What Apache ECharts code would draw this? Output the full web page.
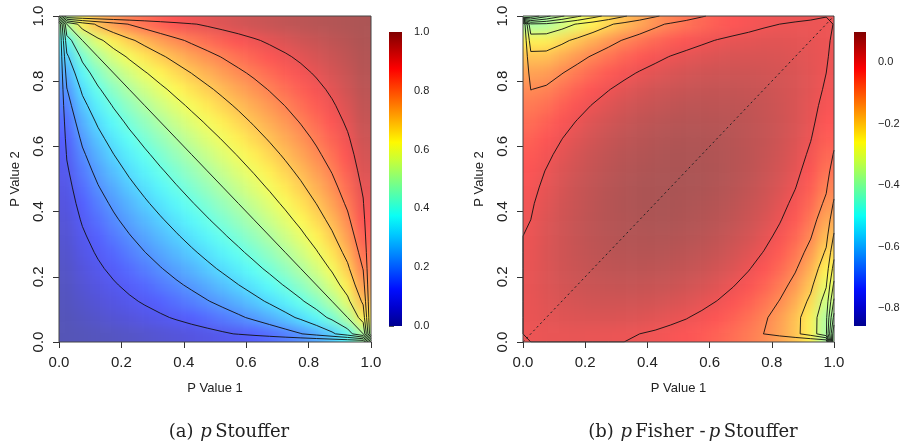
<!DOCTYPE html>
<html><head><meta charset="utf-8">
<script src="https://cdn.jsdelivr.net/npm/echarts@6/dist/echarts.min.js"></script>
<style>
html,body{margin:0;padding:0;background:#fff}
#wrap{position:relative;width:903px;height:447px;background:#fff;overflow:hidden}
.clip{position:absolute;overflow:hidden}
.heat{position:absolute;filter:blur(6px)}
#c{position:absolute;left:0;top:0;width:903px;height:447px}
</style>
</head><body>
<div id="wrap">
  <div class="clip" style="left:59px;top:16px;width:312px;height:326px"><div class="heat" id="hA"></div></div>
  <div class="clip" style="left:523px;top:16px;width:311px;height:326px"><div class="heat" id="hB"></div></div>
  <div id="c"></div>
</div>
<script>
// grid of p-values (cell centres) on both axes
const pGrid = [0.025,0.075,0.125,0.175,0.225,0.275,0.325,0.375,0.425,0.475,0.525,0.575,0.625,0.675,0.725,0.775,0.825,0.875,0.925,0.975];
const axisTicks = [0, 0.2, 0.4, 0.6, 0.8, 1.0];
// panel (a): p Stouffer, row = P Value 1 index, column = P Value 2 index
const stoufferRows = [
[0.003,0.008,0.014,0.020,0.027,0.035,0.044,0.054,0.064,0.076,0.090,0.105,0.123,0.143,0.168,0.197,0.234,0.284,0.356,0.500],
[0.008,0.021,0.034,0.047,0.060,0.075,0.090,0.107,0.125,0.144,0.165,0.188,0.214,0.243,0.276,0.314,0.361,0.419,0.500,0.644],
[0.014,0.034,0.052,0.070,0.089,0.108,0.128,0.150,0.172,0.196,0.221,0.248,0.278,0.311,0.348,0.390,0.439,0.500,0.581,0.716],
[0.020,0.047,0.070,0.093,0.116,0.139,0.163,0.188,0.213,0.240,0.269,0.299,0.332,0.367,0.406,0.450,0.500,0.561,0.639,0.766],
[0.027,0.060,0.089,0.116,0.143,0.169,0.196,0.224,0.252,0.282,0.312,0.344,0.379,0.416,0.456,0.500,0.550,0.610,0.686,0.803],
[0.035,0.075,0.108,0.139,0.169,0.199,0.229,0.259,0.289,0.320,0.353,0.386,0.422,0.459,0.500,0.544,0.594,0.652,0.724,0.832],
[0.044,0.090,0.128,0.163,0.196,0.229,0.261,0.292,0.325,0.358,0.391,0.426,0.462,0.500,0.541,0.584,0.633,0.689,0.757,0.857],
[0.054,0.107,0.150,0.188,0.224,0.259,0.292,0.326,0.360,0.394,0.428,0.464,0.500,0.538,0.578,0.621,0.668,0.722,0.786,0.877],
[0.064,0.125,0.172,0.213,0.252,0.289,0.325,0.360,0.395,0.429,0.464,0.500,0.536,0.574,0.614,0.656,0.701,0.752,0.812,0.895],
[0.076,0.144,0.196,0.240,0.282,0.320,0.358,0.394,0.429,0.465,0.500,0.536,0.572,0.609,0.647,0.688,0.731,0.779,0.835,0.910],
[0.090,0.165,0.221,0.269,0.312,0.353,0.391,0.428,0.464,0.500,0.535,0.571,0.606,0.642,0.680,0.718,0.760,0.804,0.856,0.924],
[0.105,0.188,0.248,0.299,0.344,0.386,0.426,0.464,0.500,0.536,0.571,0.605,0.640,0.675,0.711,0.748,0.787,0.828,0.875,0.936],
[0.123,0.214,0.278,0.332,0.379,0.422,0.462,0.500,0.536,0.572,0.606,0.640,0.674,0.708,0.741,0.776,0.812,0.850,0.893,0.946],
[0.143,0.243,0.311,0.367,0.416,0.459,0.500,0.538,0.574,0.609,0.642,0.675,0.708,0.739,0.771,0.804,0.837,0.872,0.910,0.956],
[0.168,0.276,0.348,0.406,0.456,0.500,0.541,0.578,0.614,0.647,0.680,0.711,0.741,0.771,0.801,0.831,0.861,0.892,0.925,0.965],
[0.197,0.314,0.390,0.450,0.500,0.544,0.584,0.621,0.656,0.688,0.718,0.748,0.776,0.804,0.831,0.857,0.884,0.911,0.940,0.973],
[0.234,0.361,0.439,0.500,0.550,0.594,0.633,0.668,0.701,0.731,0.760,0.787,0.812,0.837,0.861,0.884,0.907,0.930,0.953,0.980],
[0.284,0.419,0.500,0.561,0.610,0.652,0.689,0.722,0.752,0.779,0.804,0.828,0.850,0.872,0.892,0.911,0.930,0.948,0.966,0.986],
[0.356,0.500,0.581,0.639,0.686,0.724,0.757,0.786,0.812,0.835,0.856,0.875,0.893,0.910,0.925,0.940,0.953,0.966,0.979,0.992],
[0.500,0.644,0.716,0.766,0.803,0.832,0.857,0.877,0.895,0.910,0.924,0.936,0.946,0.956,0.965,0.973,0.980,0.986,0.992,0.997]
];
// values on the border of panel (a): x=0, x=1, y=0, y=1 (along pGrid), corners BL, BR, TR, TL
const stoufferLeft   = [0,0,0,0,0,0,0,0,0,0,0,0,0,0,0,0,0,0,0,0];
const stoufferRight  = [1,1,1,1,1,1,1,1,1,1,1,1,1,1,1,1,1,1,1,1];
const stoufferBottom = [0,0,0,0,0,0,0,0,0,0,0,0,0,0,0,0,0,0,0,0];
const stoufferTop    = [1,1,1,1,1,1,1,1,1,1,1,1,1,1,1,1,1,1,1,1];
const stoufferCorners = [0, 0.5, 1, 0.5];
// panel (b): p Fisher - p Stouffer
const diffRows = [
[0.002,0.006,0.007,0.008,0.007,0.006,0.003,0.000,-0.005,-0.012,-0.020,-0.030,-0.042,-0.058,-0.077,-0.101,-0.134,-0.178,-0.246,-0.385],
[0.006,0.014,0.020,0.023,0.025,0.026,0.025,0.022,0.017,0.010,0.002,-0.010,-0.024,-0.041,-0.063,-0.091,-0.127,-0.175,-0.246,-0.379],
[0.007,0.020,0.029,0.035,0.040,0.042,0.042,0.041,0.037,0.031,0.023,0.013,-0.001,-0.018,-0.040,-0.067,-0.102,-0.149,-0.216,-0.338],
[0.008,0.023,0.035,0.044,0.051,0.055,0.057,0.057,0.054,0.050,0.042,0.033,0.020,0.003,-0.017,-0.043,-0.076,-0.120,-0.183,-0.293],
[0.007,0.025,0.040,0.051,0.059,0.065,0.068,0.069,0.068,0.064,0.058,0.050,0.038,0.023,0.003,-0.021,-0.052,-0.093,-0.151,-0.251],
[0.006,0.026,0.042,0.055,0.065,0.072,0.077,0.079,0.079,0.076,0.071,0.063,0.053,0.039,0.021,-0.002,-0.031,-0.069,-0.122,-0.211],
[0.003,0.025,0.042,0.057,0.068,0.077,0.082,0.086,0.087,0.085,0.081,0.075,0.065,0.052,0.036,0.015,-0.012,-0.047,-0.095,-0.175],
[0.000,0.022,0.041,0.057,0.069,0.079,0.086,0.090,0.092,0.092,0.089,0.083,0.074,0.063,0.048,0.029,0.004,-0.028,-0.072,-0.144],
[-0.005,0.017,0.037,0.054,0.068,0.079,0.087,0.092,0.095,0.096,0.093,0.089,0.081,0.071,0.057,0.040,0.017,-0.012,-0.051,-0.115],
[-0.012,0.010,0.031,0.050,0.064,0.076,0.085,0.092,0.096,0.097,0.096,0.092,0.086,0.076,0.064,0.048,0.028,0.002,-0.034,-0.090],
[-0.020,0.002,0.023,0.042,0.058,0.071,0.081,0.089,0.093,0.096,0.095,0.093,0.088,0.080,0.069,0.054,0.036,0.012,-0.019,-0.069],
[-0.030,-0.010,0.013,0.033,0.050,0.063,0.075,0.083,0.089,0.092,0.093,0.091,0.087,0.080,0.071,0.058,0.042,0.021,-0.008,-0.051],
[-0.042,-0.024,-0.001,0.020,0.038,0.053,0.065,0.074,0.081,0.086,0.088,0.087,0.084,0.078,0.070,0.059,0.045,0.026,0.002,-0.035],
[-0.058,-0.041,-0.018,0.003,0.023,0.039,0.052,0.063,0.071,0.076,0.080,0.080,0.078,0.074,0.068,0.058,0.046,0.030,0.009,-0.023],
[-0.077,-0.063,-0.040,-0.017,0.003,0.021,0.036,0.048,0.057,0.064,0.069,0.071,0.070,0.068,0.063,0.055,0.045,0.031,0.013,-0.013],
[-0.101,-0.091,-0.067,-0.043,-0.021,-0.002,0.015,0.029,0.040,0.048,0.054,0.058,0.059,0.058,0.055,0.050,0.041,0.030,0.016,-0.005],
[-0.134,-0.127,-0.102,-0.076,-0.052,-0.031,-0.012,0.004,0.017,0.028,0.036,0.042,0.045,0.046,0.045,0.041,0.036,0.027,0.016,0.000],
[-0.178,-0.175,-0.149,-0.120,-0.093,-0.069,-0.047,-0.028,-0.012,0.002,0.012,0.021,0.026,0.030,0.031,0.030,0.027,0.022,0.014,0.003],
[-0.246,-0.246,-0.216,-0.183,-0.151,-0.122,-0.095,-0.072,-0.051,-0.034,-0.019,-0.008,0.002,0.009,0.013,0.016,0.016,0.014,0.010,0.003],
[-0.385,-0.379,-0.338,-0.293,-0.251,-0.211,-0.175,-0.144,-0.115,-0.090,-0.069,-0.051,-0.035,-0.023,-0.013,-0.005,0.000,0.003,0.003,0.002]
];
const diffLeft   = [0,0,0,0,0,0,0,0,0,0,0,0,0,0,0,0,0,0,0,0];
const diffBottom = [0,0,0,0,0,0,0,0,0,0,0,0,0,0,0,0,0,0,0,0];
const diffRight  = [-0.883,-0.731,-0.615,-0.520,-0.439,-0.370,-0.310,-0.257,-0.211,-0.171,-0.137,-0.107,-0.081,-0.060,-0.042,-0.028,-0.016,-0.008,-0.003,-0.0003];
const diffTop    = [-0.883,-0.731,-0.615,-0.520,-0.439,-0.370,-0.310,-0.257,-0.211,-0.171,-0.137,-0.107,-0.081,-0.060,-0.042,-0.028,-0.016,-0.008,-0.003,-0.0003];
const diffCorners = [0, -1, 0, -1];

const stoufferLevels = [0.1,0.2,0.3,0.4,0.5,0.6,0.7,0.8,0.9];
const diffLevels = [0,-0.1,-0.2,-0.3,-0.4,-0.5,-0.6,-0.7,-0.8];
const stoufferBarTicks = [0,0.2,0.4,0.6,0.8,1.0];
const diffBarTicks = [0,-0.2,-0.4,-0.6,-0.8];
const stoufferRange = [0, 1];
const diffRange = [-0.857, 0.097];
const diagonal = [[0,0],[1,1]];

// colour scale (full strength for the colour bars, see-through version for the image)
const jet = ['#00008F','#0000CE','#000EFF','#004DFF','#008CFF','#00CAFF','#0AFFF5','#49FFB6','#87FF78','#C6FF39','#FFF900','#FFBA00','#FF7B00','#FF3D00','#FD0000','#BE0000','#800000'];
const jetFaded = ['#5454B4','#5454DE','#545EFF','#5488FF','#54B2FF','#54DCFF','#5BFFF8','#85FFCE','#AFFFA5','#D9FF7A','#FFFB54','#FFD154','#FFA754','#FF7D54','#FE5454','#D35454','#AA5454'];

// heatmap data, with the outer ring repeated so the smoothing has no light edge
function paddedHeat(rows){
  const n=rows.length,d=[];
  for(let r=0;r<n+2;r++)for(let c=0;c<n+2;c++){
    const rr=Math.min(n-1,Math.max(0,r-1)),cc=Math.min(n-1,Math.max(0,c-1));
    d.push([r,c,rows[rr][cc]]);
  }
  return d;
}
function heatChart(el, rows, range, cellW, cellH, w, h){
  el.style.left=(-cellW)+'px';el.style.top=(-cellH)+'px';
  el.style.width=(w+2*cellW)+'px';el.style.height=(h+2*cellH)+'px';
  const cats=['lo'].concat(pGrid,['hi']);
  const ch=echarts.init(el,null,{renderer:'canvas'});
  ch.setOption({animation:false,
    grid:{left:0,top:0,right:0,bottom:0},
    xAxis:{type:'category',data:cats,show:false},
    yAxis:{type:'category',data:cats,show:false},
    visualMap:{show:false,type:'continuous',min:range[0],max:range[1],inRange:{color:jetFaded}},
    series:[{type:'heatmap',data:paddedHeat(rows),silent:true,itemStyle:{borderWidth:0}}]});
}
heatChart(document.getElementById('hA'),stoufferRows,stoufferRange,312/20,326/20,312,326);
heatChart(document.getElementById('hB'),diffRows,diffRange,311/20,326/20,311,326);

// full grid for contouring: border values + interior values
const edgeGrid=[0].concat(pGrid,[1]);
function withBorder(rows,left,right,bottom,top,corners){
  const n=rows.length,M=[];
  for(let i=0;i<n+2;i++){const col=[];
    for(let j=0;j<n+2;j++){
      let v;
      if(i===0)v=(j===0?corners[0]:(j===n+1?corners[3]:left[j-1]));
      else if(i===n+1)v=(j===0?corners[1]:(j===n+1?corners[2]:right[j-1]));
      else if(j===0)v=bottom[i-1];
      else if(j===n+1)v=top[i-1];
      else v=rows[i-1][j-1];
      col.push(v);}
    M.push(col);}
  return M;
}
function contourLines(M, xs, ys, level){
  const segs=[];
  const ip=(xa,ya,va,xb,yb,vb)=>{const t=(level-va)/(vb-va);return [xa+t*(xb-xa),ya+t*(yb-ya)];};
  for(let i=0;i<xs.length-1;i++)for(let j=0;j<ys.length-1;j++){
    const v00=M[i][j],v10=M[i+1][j],v11=M[i+1][j+1],v01=M[i][j+1];
    const a00=v00>level,a10=v10>level,a11=v11>level,a01=v01>level;
    const B=a00!==a10?ip(xs[i],ys[j],v00,xs[i+1],ys[j],v10):null;
    const R=a10!==a11?ip(xs[i+1],ys[j],v10,xs[i+1],ys[j+1],v11):null;
    const T=a01!==a11?ip(xs[i],ys[j+1],v01,xs[i+1],ys[j+1],v11):null;
    const L=a00!==a01?ip(xs[i],ys[j],v00,xs[i],ys[j+1],v01):null;
    const pts=[B,R,T,L].filter(p=>p);
    if(pts.length===2)segs.push(pts);
    else if(pts.length===4){
      const cAbove=(v00+v10+v11+v01)/4>level;
      if(a00===cAbove){segs.push([B,R]);segs.push([T,L]);}
      else{segs.push([L,B]);segs.push([R,T]);}
    }
  }
  const key=p=>p[0].toFixed(6)+','+p[1].toFixed(6);
  const adj=new Map();
  segs.forEach((s,k)=>s.forEach(p=>{const kk=key(p);if(!adj.has(kk))adj.set(kk,[]);adj.get(kk).push(k);}));
  const used=new Array(segs.length).fill(false);const lines=[];
  for(let k=0;k<segs.length;k++){
    if(used[k])continue;used[k]=true;const line=[segs[k][0],segs[k][1]];
    [true,false].forEach(atEnd=>{
      while(true){
        const pt=atEnd?line[line.length-1]:line[0];
        const cand=(adj.get(key(pt))||[]).find(q=>!used[q]);
        if(cand===undefined)break;used[cand]=true;
        const s=segs[cand];const other=key(s[0])===key(pt)?s[1]:s[0];
        if(atEnd)line.push(other);else line.unshift(other);
      }
    });
    lines.push({coords:line});
  }
  return lines;
}
function allContours(M, levels){let out=[];levels.forEach(l=>{out=out.concat(contourLines(M,edgeGrid,edgeGrid,l));});return out;}
const contA=allContours(withBorder(stoufferRows,stoufferLeft,stoufferRight,stoufferBottom,stoufferTop,stoufferCorners),stoufferLevels);
const contB=allContours(withBorder(diffRows,diffLeft,diffRight,diffBottom,diffTop,diffCorners),diffLevels);

const txt='#222';
const fmt1=v=>(v<0?'\u2212':'')+Math.abs(v).toFixed(1);
function valX(g, title){return {gridIndex:g,type:'value',min:0,max:1,interval:0.2,position:'bottom',
  axisLine:{show:false},axisTick:{show:true,length:6,lineStyle:{color:'#333'}},splitLine:{show:false},
  axisLabel:{color:txt,fontSize:15,fontFamily:'Liberation Sans',margin:13,formatter:v=>v.toFixed(1)},
  name:title,nameLocation:'middle',nameGap:40,nameTextStyle:{color:txt,fontSize:13,fontFamily:'Liberation Sans'}};}
function valY(g, title){return {gridIndex:g,type:'value',min:0,max:1,interval:0.2,position:'left',
  axisLine:{show:false},axisTick:{show:true,length:6,lineStyle:{color:'#333'}},splitLine:{show:false},
  axisLabel:{color:txt,fontSize:15,fontFamily:'Liberation Sans',margin:13,rotate:90,formatter:v=>v.toFixed(1)},
  name:title,nameLocation:'middle',nameGap:37,nameTextStyle:{color:txt,fontSize:13,fontFamily:'Liberation Sans'}};}
function barAxis(g,range,ticks){return {gridIndex:g,type:'value',min:range[0],max:range[1],position:'right',
  axisLine:{show:false},splitLine:{show:false},
  axisTick:{show:true,length:5,customValues:ticks,lineStyle:{color:'#555'}},
  axisLabel:{color:txt,fontSize:11,fontFamily:'Liberation Sans',margin:12,customValues:ticks,formatter:fmt1}};}
function barFill(){return {type:'linear',x:0,y:1,x2:0,y2:0,colorStops:jet.map((c,i)=>({offset:i/(jet.length-1),color:c}))};}

const gA={left:59,top:16,width:312,height:326};
const gB={left:523,top:16,width:311,height:326};
const bA={left:389,top:32,width:13,height:294};
const bB={left:854,top:32,width:12,height:294};
const capRich={n:{fontFamily:'DejaVu Serif',fontSize:18,fill:'#222'},i:{fontFamily:'DejaVu Serif',fontStyle:'italic',fontSize:18,fill:'#222'}};
const lineCommon={type:'lines',coordinateSystem:'cartesian2d',polyline:true,silent:true,z:5,clip:true,
  lineStyle:{color:'#111',width:0.9,opacity:1}};
const option={
  animation:false,
  grid:[gA,gB,bA,bB],
  xAxis:[valX(0,'P Value 1'),valX(1,'P Value 1'),
         {gridIndex:2,type:'value',show:false},{gridIndex:3,type:'value',show:false}],
  yAxis:[valY(0,'P Value 2'),valY(1,'P Value 2'),
         barAxis(2,stoufferRange,stoufferBarTicks),barAxis(3,diffRange,diffBarTicks)],
  series:[
    Object.assign({},lineCommon,{xAxisIndex:0,yAxisIndex:0,data:contA}),
    Object.assign({},lineCommon,{xAxisIndex:1,yAxisIndex:1,data:contB}),
    {type:'line',xAxisIndex:1,yAxisIndex:1,data:diagonal,showSymbol:false,silent:true,z:6,
     lineStyle:{color:'#222',width:1,type:[2,3]}}
  ],
  graphic:[
    {type:'rect',z:100,silent:true,shape:{x:gA.left,y:gA.top,width:gA.width,height:gA.height},style:{fill:null,stroke:'#444',lineWidth:1}},
    {type:'rect',z:100,silent:true,shape:{x:gB.left,y:gB.top,width:gB.width,height:gB.height},style:{fill:null,stroke:'#444',lineWidth:1}},
    {type:'rect',z:90,silent:true,shape:{x:bA.left,y:bA.top,width:bA.width,height:bA.height},style:{fill:barFill(),stroke:null}},
    {type:'rect',z:90,silent:true,shape:{x:bB.left,y:bB.top,width:bB.width,height:bB.height},style:{fill:barFill(),stroke:null}},
    {type:'text',z:100,x:229,y:432,style:{text:'{n|(a)}  {i|p} {n|Stouffer}',align:'center',verticalAlign:'middle',rich:capRich}},
    {type:'text',z:100,x:693,y:432,style:{text:'{n|(b)}  {i|p} {n|Fisher -} {i|p} {n|Stouffer}',align:'center',verticalAlign:'middle',rich:capRich}}
  ]
};
const chart=echarts.init(document.getElementById('c'),null,{renderer:'canvas'});
chart.setOption(option);
</script></body></html>
